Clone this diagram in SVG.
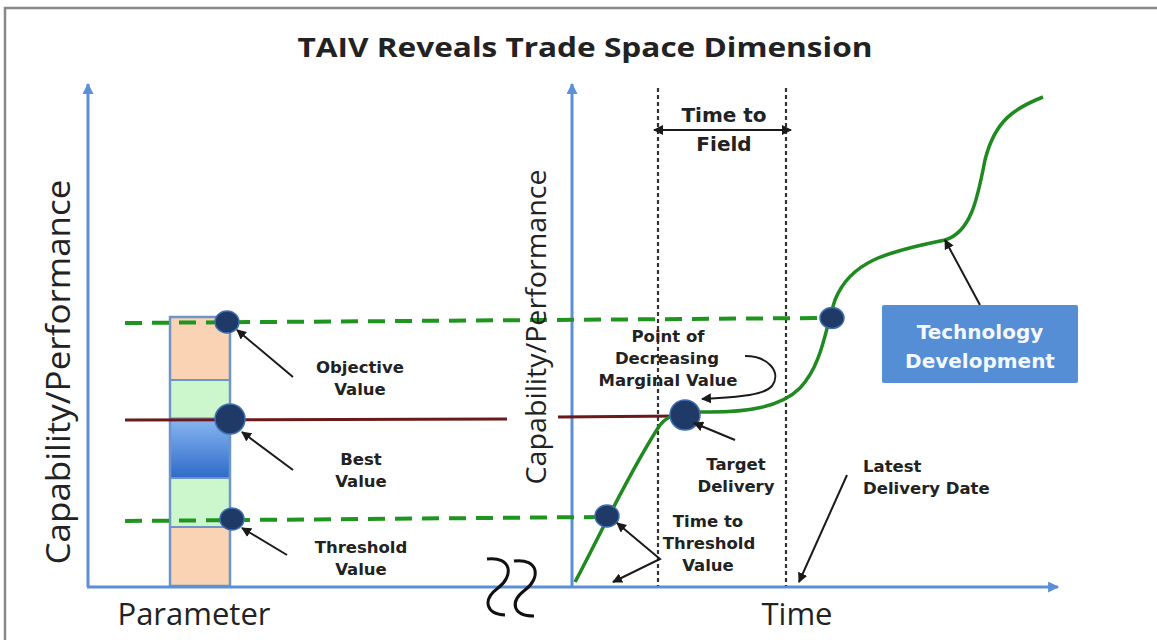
<svg xmlns="http://www.w3.org/2000/svg" width="1157" height="640" viewBox="0 0 1157 640">
<defs>
<marker id="ah" viewBox="0 0 10 10" refX="9" refY="5" markerWidth="10" markerHeight="10" markerUnits="userSpaceOnUse" orient="auto-start-reverse">
<path d="M0,0 L10,5 L0,10 z" fill="#1a1a1a"/>
</marker>
<marker id="axh" viewBox="0 0 10 10" refX="9" refY="5" markerWidth="12" markerHeight="11" markerUnits="userSpaceOnUse" orient="auto">
<path d="M0,0 L10,5 L0,10 z" fill="#5b8fd6"/>
</marker>
<linearGradient id="bg" x1="0" y1="0" x2="0" y2="1">
<stop offset="0" stop-color="#8bb8f2"/>
<stop offset="1" stop-color="#2e6bc9"/>
</linearGradient>
<style>
.ax{stroke:#5b8fd6;stroke-width:3;fill:none}
.gd{stroke:#1f951f;stroke-width:4;stroke-dasharray:17 10;fill:none}
.red{stroke:#6b1a1a;stroke-width:3;fill:none}
.vd{stroke:#333;stroke-width:2.2;stroke-dasharray:4 3;fill:none}
.arr{stroke:#1a1a1a;stroke-width:2;fill:none}
.dot{fill:#1f3a66;stroke:#3f6fb0;stroke-width:1.5}
.lbl{font-family:"DejaVu Sans",Verdana,sans-serif;font-weight:bold;font-size:16.5px;fill:#222;text-anchor:middle}
.lbl.l{text-anchor:start}
.lbl.h{font-size:20px}
.lbl.w{font-size:20px;fill:#f4f8ff}
.big{font-family:"Open Sans","Liberation Sans",sans-serif;fill:#222}
.seg{stroke:#6f95c8;stroke-width:2}
</style>
</defs>
<rect width="1157" height="640" fill="#fff"/>
<path d="M5,640 L5,8 L1157,8" stroke="#888" stroke-width="2.5" fill="none"/>
<text x="585" y="57" class="big" font-size="26" font-weight="bold" text-anchor="middle" textLength="575" lengthAdjust="spacingAndGlyphs">TAIV Reveals Trade Space Dimension</text>

<g id="bar">
<rect x="170" y="317" width="60" height="63" fill="#f9d3b3"/>
<rect x="170" y="380" width="60" height="37" fill="#ccf7cc"/>
<rect x="170" y="417" width="60" height="61" fill="url(#bg)"/>
<rect x="170" y="478" width="60" height="49" fill="#ccf7cc"/>
<rect x="170" y="527" width="60" height="59" fill="#f9d3b3"/>
<line x1="170" y1="380" x2="230" y2="380" class="seg"/>
<line x1="170" y1="478" x2="230" y2="478" class="seg"/>
<line x1="170" y1="527" x2="230" y2="527" class="seg"/>
<rect x="170" y="317" width="60" height="269" fill="none" stroke="#6f95c8" stroke-width="2.5"/>
</g>

<g id="axes">
<line x1="88" y1="587" x2="88" y2="84" class="ax" marker-end="url(#axh)"/>
<line x1="572" y1="587" x2="572" y2="84" class="ax" marker-end="url(#axh)"/>
<line x1="87" y1="587" x2="1058" y2="587" class="ax" marker-end="url(#axh)"/>
<path d="M487,559 C512,556 514,576 498,588 C482,600 486,614 505,615" stroke="#111" stroke-width="3" fill="none"/>
<path d="M514,561 C539,558 541,578 525,590 C509,602 513,616 534,616" stroke="#111" stroke-width="3" fill="none"/>
</g>

<g id="guides">
<line x1="658" y1="88" x2="658" y2="586" class="vd"/>
<line x1="786" y1="88" x2="786" y2="586" class="vd"/>
<line x1="125" y1="323" x2="822" y2="318" class="gd"/>
<line x1="125" y1="521" x2="600" y2="517" class="gd"/>
<line x1="125" y1="420" x2="507" y2="419" class="red"/>
<line x1="558" y1="417" x2="680" y2="416" class="red"/>
</g>

<g id="curve">
<path d="M575,582 C595,545 630,470 660,425 C672,410 690,412 710,412 C745,412 780,408 800,388 C822,365 825,330 835,300 C850,262 885,252 945,240 C972,232 978,195 985,160 C995,120 1015,108 1043,97" stroke="#1f8a1f" stroke-width="3.5" fill="none"/>
</g>

<g id="dots">
<ellipse cx="227" cy="322" rx="12" ry="11" class="dot"/>
<circle cx="230" cy="419" r="15" class="dot"/>
<ellipse cx="232" cy="519" rx="12" ry="11" class="dot"/>
<ellipse cx="607" cy="516" rx="12" ry="11" class="dot"/>
<circle cx="685" cy="415" r="15" class="dot"/>
<ellipse cx="832" cy="318" rx="12" ry="10.5" class="dot"/>
</g>

<g id="connectors">
<line x1="293" y1="377" x2="237" y2="330" class="arr" marker-end="url(#ah)"/>
<line x1="293" y1="470" x2="242" y2="432" class="arr" marker-end="url(#ah)"/>
<line x1="287" y1="555" x2="242" y2="528" class="arr" marker-end="url(#ah)"/>
<line x1="654" y1="130" x2="791" y2="130" class="arr" marker-start="url(#ah)" marker-end="url(#ah)"/>
<path d="M745,356 C768,356 782,372 772,386 C762,397 730,397 702,399" class="arr" marker-end="url(#ah)"/>
<line x1="735" y1="440" x2="694" y2="423" class="arr" marker-end="url(#ah)"/>
<polyline points="617,523 660,559 613,582" class="arr" marker-start="url(#ah)" marker-end="url(#ah)"/>
<line x1="847" y1="475" x2="799" y2="582" class="arr" marker-end="url(#ah)"/>
<line x1="980" y1="305" x2="945" y2="240" class="arr" marker-end="url(#ah)"/>
</g>

<g id="labels">
<text class="big" font-size="32" transform="translate(70,372) rotate(-90)" text-anchor="middle" textLength="385" lengthAdjust="spacingAndGlyphs">Capability/Performance</text>
<text class="big" font-size="28" transform="translate(546,327) rotate(-90)" text-anchor="middle" textLength="315" lengthAdjust="spacingAndGlyphs">Capability/Performance</text>
<text class="big" font-size="31" x="194" y="625" text-anchor="middle">Parameter</text>
<text class="big" font-size="31" x="797" y="625" text-anchor="middle">Time</text>
<text class="lbl" x="360" y="373">Objective</text>
<text class="lbl" x="360" y="395">Value</text>
<text class="lbl" x="361" y="465">Best</text>
<text class="lbl" x="361" y="487">Value</text>
<text class="lbl" x="361" y="553">Threshold</text>
<text class="lbl" x="361" y="575">Value</text>
<text class="lbl h" x="724" y="122">Time to</text>
<text class="lbl h" x="724" y="151">Field</text>
<text class="lbl" x="668" y="342">Point of</text>
<text class="lbl" x="667" y="364">Decreasing</text>
<text class="lbl" x="668" y="386">Marginal Value</text>
<text class="lbl" x="736" y="470">Target</text>
<text class="lbl" x="736" y="492">Delivery</text>
<text class="lbl" x="708" y="527">Time to</text>
<text class="lbl" x="709" y="549">Threshold</text>
<text class="lbl" x="708" y="571">Value</text>
<text class="lbl l" x="863" y="472">Latest</text>
<text class="lbl l" x="863" y="494">Delivery Date</text>
</g>

<g id="tech">
<rect x="882" y="305" width="196" height="78" rx="2" fill="#558ed5"/>
<text class="lbl w" x="980" y="339">Technology</text>
<text class="lbl w" x="980" y="368">Development</text>
</g>
</svg>
